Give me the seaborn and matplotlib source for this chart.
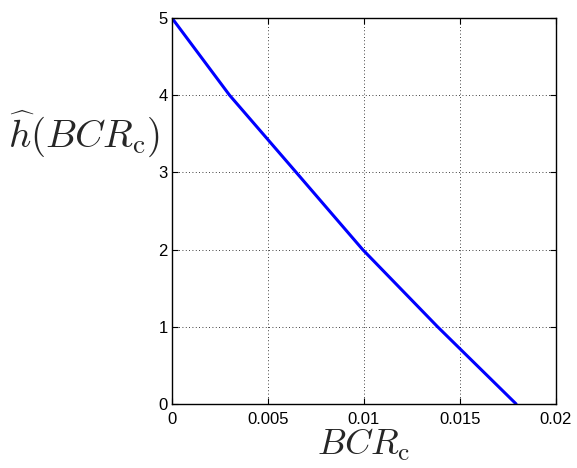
import matplotlib
matplotlib.use("Agg")
import matplotlib.pyplot as plt
import seaborn as sns
import pandas as pd

bcr_c = [0.0, 0.0030, 0.00647, 0.00993, 0.01383, 0.01792]
h_hat = [5.0, 4.0, 3.0, 2.0, 1.0, 0.0]
x_ticks = [0, 0.005, 0.01, 0.015, 0.02]
x_tick_labels = ["0", "0.005", "0.01", "0.015", "0.02"]
y_ticks = [0, 1, 2, 3, 4, 5]

sns.set_theme(style="white")
plt.rcParams["font.family"] = ["Liberation Sans", "DejaVu Sans"]
plt.rcParams["mathtext.fontset"] = "cm"

fig = plt.figure(figsize=(5.77, 4.68), dpi=100)
ax = fig.add_axes([0.298, 0.137, 0.6656, 0.8245])

df = pd.DataFrame({"bcr": bcr_c, "h": h_hat})
sns.lineplot(data=df, x="bcr", y="h", ax=ax, color="#0000ff", linewidth=2.2)

ax.set_xlim(0, 0.02)
ax.set_ylim(0, 5)
ax.set_xticks(x_ticks)
ax.set_xticklabels(x_tick_labels)
ax.set_yticks(y_ticks)
ax.grid(True, color="black", linestyle=(0, (1, 3)), linewidth=0.6)
for s in ax.spines.values():
    s.set_color("black")
    s.set_linewidth(1.0)
ax.tick_params(direction="in", length=4, width=0.8, colors="black",
               labelsize=12, top=True, right=True, bottom=True, left=True)
ax.tick_params(axis="x", pad=6)
ax.tick_params(axis="y", pad=3)

ax.set_xlabel(r"$BCR_\mathrm{c}$", fontsize=26, labelpad=0)
ax.set_ylabel(r"$\widehat{h}(BCR_\mathrm{c})$", fontsize=28, rotation=0,
              ha="center", va="center")
ax.yaxis.set_label_coords(-0.229, 0.70)

fig.savefig("out.png", dpi=100)
